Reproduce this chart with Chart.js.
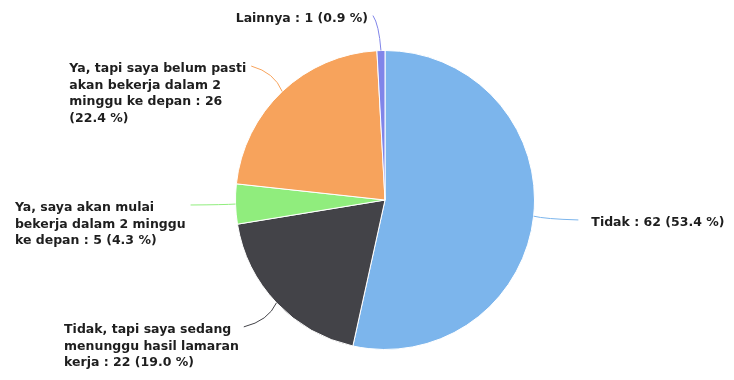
<!DOCTYPE html>
<html>
<head>
<meta charset="utf-8">
<script src="https://cdn.jsdelivr.net/npm/chart.js@4/dist/chart.umd.min.js"></script>
<style>
  html, body { margin: 0; padding: 0; background: #fff; }
  #wrap { width: 734px; height: 380px; }
</style>
</head>
<body>
<div id="wrap"><canvas id="c" width="734" height="380"></canvas></div>
<script>
const categories = [
  "Tidak",
  "Tidak, tapi saya sedang menunggu hasil lamaran kerja",
  "Ya, saya akan mulai bekerja dalam 2 minggu ke depan",
  "Ya, tapi saya belum pasti akan bekerja dalam 2 minggu ke depan",
  "Lainnya"
];
const values = [62, 22, 5, 26, 1];
const colors = ["#7cb5ec", "#434348", "#90ed7d", "#f7a35c", "#8085e9"];

const FONT = "bold 12.5px 'DejaVu Sans', Verdana, sans-serif";
const WRAP = 184;
const LINE_H = 16.5;

function wrapText(ctx, text, maxW) {
  const words = text.split(" ");
  const lines = [];
  let cur = "";
  for (const w of words) {
    const test = cur ? cur + " " + w : w;
    if (cur && ctx.measureText(test).width > maxW) {
      lines.push(cur);
      cur = w;
    } else {
      cur = test;
    }
  }
  if (cur) lines.push(cur);
  return lines;
}

const labelPlugin = {
  id: "pieLabels",
  afterDatasetsDraw(chart) {
    const ctx = chart.ctx;
    const meta = chart.getDatasetMeta(0);
    const total = values.reduce((a, b) => a + b, 0);
    ctx.save();
    ctx.font = FONT;
    ctx.textBaseline = "middle";
    meta.data.forEach((arc, i) => {
      const mid = (arc.startAngle + arc.endAngle) / 2;
      const r = arc.outerRadius;
      const cx = arc.x, cy = arc.y;
      const ex = cx + r * Math.cos(mid);
      const ey = cy + r * Math.sin(mid);
      const right = Math.cos(mid) > 0.05;
      let ax = cx + (r + 45) * Math.cos(mid);
      const ay = cy + (r + 35) * Math.sin(mid);
      if (!right) ax = Math.min(ax, ex - 8);
      // connector
      const mx = (ex + ax) / 2, my = (ey + ay) / 2;
      const qx = (ex + mx) / 2, qy = (ay + my) / 2;
      ctx.strokeStyle = colors[i];
      ctx.lineWidth = 1;
      ctx.beginPath();
      ctx.moveTo(ex, ey);
      ctx.quadraticCurveTo(qx, qy, ax, ay);
      ctx.stroke();
      // text
      const pct = (values[i] / total * 100).toFixed(1);
      const txt = categories[i] + " : " + values[i] + " (" + pct + " %)";
      const lines = wrapText(ctx, txt, WRAP);
      const boxW = Math.max(...lines.map(l => ctx.measureText(l).width));
      const left = right ? ax + 13 : ax - 5 - boxW;
      ctx.fillStyle = "#1e1e1e";
      ctx.textAlign = "left";
      lines.forEach((l, k) => {
        ctx.fillText(l, left, ay + 3 + k * LINE_H);
      });
    });
    ctx.restore();
  }
};

new Chart(document.getElementById("c"), {
  type: "pie",
  data: {
    labels: categories,
    datasets: [{
      data: values,
      backgroundColor: colors,
      borderColor: "#ffffff",
      borderWidth: 1
    }]
  },
  options: {
    responsive: false,
    animation: false,
    layout: { padding: { left: 235, right: 199, top: 50, bottom: 30 } },
    plugins: {
      legend: { display: false },
      tooltip: { enabled: false }
    }
  },
  plugins: [labelPlugin]
});
</script>
</body>
</html>
